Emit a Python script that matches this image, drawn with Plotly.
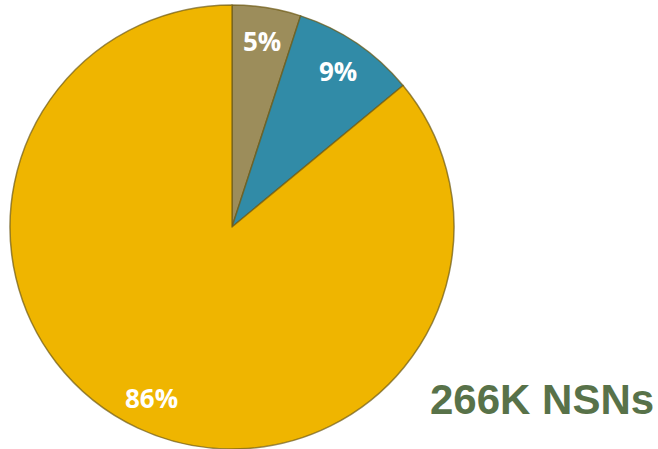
import math
import plotly.graph_objects as go

labels = ["A", "B", "C"]
values = [5, 9, 86]
colors = ["#9C8D5B", "#318BA7", "#EFB500"]
total_label = "266K NSNs"

W, H, TOP = 658, 449, 5
cx, cy, R = 232, 227, 222

fig = go.Figure(go.Pie(
    labels=labels, values=values, sort=False, direction="clockwise", rotation=0,
    marker=dict(colors=colors, line=dict(color="rgba(110,90,20,0.7)", width=1.5)),
    textinfo="none", hoverinfo="label+percent", showlegend=False,
    domain=dict(x=[(cx - R) / W, (cx + R) / W], y=[0, 1]),
))


def to_paper(px, py):
    return px / W, (H - py) / (H - TOP)


annotations = []
tot = sum(values)
acc = 0
for v in values:
    mid = (acc + v / 2) / tot * 2 * math.pi
    acc += v
    r = 0.85 * R
    px = cx + r * math.sin(mid)
    py = cy - r * math.cos(mid)
    x, y = to_paper(px, py)
    annotations.append(dict(
        x=x, y=y, xref="paper", yref="paper", xanchor="center", yanchor="middle",
        text=f"{round(v / tot * 100)}%", showarrow=False,
        font=dict(family="Open Sans", size=26, color="white", weight="bold"),
    ))
x, y = to_paper(542, 399)
annotations.append(dict(
    x=x, y=y, xref="paper", yref="paper", xanchor="center", yanchor="middle", text=total_label,
    showarrow=False, font=dict(family="Liberation Sans, Arial", size=42, color="#587249", weight="bold"),
))

fig.update_layout(
    width=W, height=H, margin=dict(l=0, r=0, t=TOP, b=0),
    paper_bgcolor="white", plot_bgcolor="white", annotations=annotations,
)
fig.write_html("out.html")
